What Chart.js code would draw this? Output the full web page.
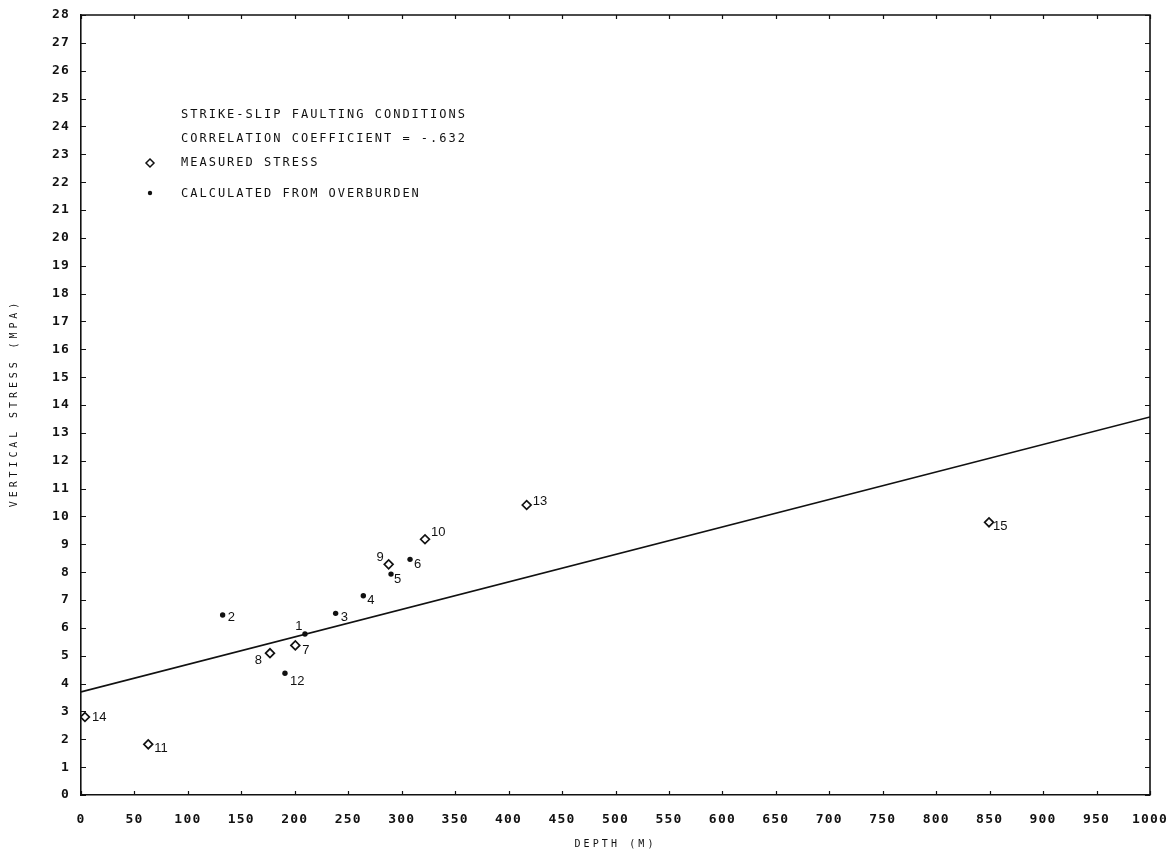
<!DOCTYPE html>
<html>
<head>
<meta charset="utf-8">
<script src="https://cdn.jsdelivr.net/npm/chart.js@4/dist/chart.umd.min.js"></script>
<style>
  html, body { margin: 0; padding: 0; background: #fff; }
  #wrap { width: 1175px; height: 853px; }
</style>
</head>
<body>
<div id="wrap"><canvas id="c" width="1175" height="853"></canvas></div>
<script>
// Measured stress (open diamonds)
const measuredIds    = ['7', '8', '9', '10', '11', '13', '14', '15'];
const measuredDepth  = [200.5, 176.8, 287.8, 321.8, 62.9, 416.9, 3.7, 849.4];
const measuredStress = [5.37, 5.09, 8.28, 9.18, 1.82, 10.41, 2.8, 9.79];

// Calculated from overburden (filled dots)
const calcIds    = ['1', '2', '3', '4', '5', '6', '12'];
const calcDepth  = [209.5, 132.5, 238.2, 264.1, 290.0, 307.8, 190.8];
const calcStress = [5.78, 6.46, 6.52, 7.15, 7.93, 8.46, 4.37];

// Regression line end points
const fitDepth  = [0, 1000];
const fitStress = [3.7, 13.57];

// Axis ticks
const depthTicks  = [0, 50, 100, 150, 200, 250, 300, 350, 400, 450, 500, 550, 600, 650, 700, 750, 800, 850, 900, 950, 1000];
const stressTicks = [0, 1, 2, 3, 4, 5, 6, 7, 8, 9, 10, 11, 12, 13, 14, 15, 16, 17, 18, 19, 20, 21, 22, 23, 24, 25, 26, 27, 28];

// Axis titles
const xTitle = 'DEPTH (M)';
const yTitle = 'VERTICAL STRESS (MPA)';

// Text block in the upper left
const titleLines   = ['STRIKE-SLIP FAULTING CONDITIONS', 'CORRELATION COEFFICIENT = -.632'];
const legendLabels = ['MEASURED STRESS', 'CALCULATED FROM OVERBURDEN'];

// Where each point number sits relative to its marker (px), and its alignment
const labelPlacement = {
  '1':  [-6, -8, 'center'], '2':  [5, 2, 'left'],  '3':  [5, 4, 'left'],
  '4':  [4, 5, 'left'],     '5':  [3, 5, 'left'],  '6':  [4, 5, 'left'],
  '7':  [7, 5, 'left'],     '8':  [-8, 7, 'right'], '9':  [-5, -7, 'right'],
  '10': [6, -7, 'left'],    '11': [6, 4, 'left'],  '12': [5, 8, 'left'],
  '13': [6, -4, 'left'],    '14': [7, 0, 'left'],  '15': [4, 4, 'left']
};

const toPoints = (xs, ys) => xs.map((x, i) => ({ x: x, y: ys[i] }));

const ink = '#111';
const plotFont = "'DejaVu Sans Mono', monospace";

const framePlugin = {
  id: 'frame',
  beforeDraw(chart) {
    // spacing for the tick numerals drawn by the scales
    chart.ctx.letterSpacing = '1.2px';
  },
  afterDatasetsDraw(chart) {
    const ctx = chart.ctx;
    const a = chart.chartArea;
    const xs = chart.scales.x, ys = chart.scales.y;
    ctx.save();
    ctx.strokeStyle = ink;
    ctx.lineWidth = 1.6;
    // top and right borders
    ctx.beginPath();
    ctx.moveTo(a.left, a.top); ctx.lineTo(a.right, a.top); ctx.lineTo(a.right, a.bottom);
    ctx.stroke();
    // inward tick marks on all four sides
    ctx.lineWidth = 1.2;
    ctx.beginPath();
    depthTicks.forEach(v => {
      const px = Math.round(xs.getPixelForValue(v)) + 0.5;
      ctx.moveTo(px, a.bottom); ctx.lineTo(px, a.bottom - 4);
      ctx.moveTo(px, a.top); ctx.lineTo(px, a.top + 4);
    });
    stressTicks.forEach(v => {
      const py = Math.round(ys.getPixelForValue(v)) + 0.5;
      ctx.moveTo(a.left, py); ctx.lineTo(a.left + 5, py);
      ctx.moveTo(a.right, py); ctx.lineTo(a.right - 5, py);
    });
    ctx.stroke();

    // point numbers
    ctx.letterSpacing = '0px';
    ctx.fillStyle = ink;
    ctx.font = "13px 'Liberation Sans', sans-serif";
    ctx.textBaseline = 'middle';
    const drawIds = (ids, xsArr, ysArr) => {
      ids.forEach((id, i) => {
        const p = labelPlacement[id];
        ctx.textAlign = p[2];
        ctx.fillText(id, xs.getPixelForValue(xsArr[i]) + p[0], ys.getPixelForValue(ysArr[i]) + p[1]);
      });
    };
    drawIds(measuredIds, measuredDepth, measuredStress);
    drawIds(calcIds, calcDepth, calcStress);

    // axis titles
    ctx.font = "10px " + plotFont;
    ctx.letterSpacing = '3.1px';
    ctx.textAlign = 'center';
    ctx.fillText(xTitle, (a.left + a.right) / 2, 844);
    ctx.save();
    ctx.translate(14, (a.top + a.bottom) / 2);
    ctx.rotate(-Math.PI / 2);
    ctx.letterSpacing = '3.9px';
    ctx.fillText(yTitle, 2, 0);
    ctx.restore();

    // title lines and legend
    const tx = a.left + 100;
    ctx.font = "12px " + plotFont;
    ctx.letterSpacing = '2px';
    ctx.textAlign = 'left';
    ctx.fillText(titleLines[0], tx, a.top + 100);
    ctx.fillText(titleLines[1], tx, a.top + 124);
    ctx.fillText(legendLabels[0], tx, a.top + 148);
    ctx.fillText(legendLabels[1], tx, a.top + 179);
    // legend markers
    const mx = a.left + 69;
    ctx.lineWidth = 1.5;
    ctx.strokeStyle = ink;
    ctx.fillStyle = '#fff';
    ctx.beginPath();
    const my = a.top + 148;
    ctx.moveTo(mx, my - 4); ctx.lineTo(mx + 4, my); ctx.lineTo(mx, my + 4); ctx.lineTo(mx - 4, my); ctx.closePath();
    ctx.fill(); ctx.stroke();
    ctx.fillStyle = ink;
    ctx.beginPath();
    ctx.arc(mx, a.top + 178, 2.2, 0, Math.PI * 2);
    ctx.fill();
    ctx.restore();
  }
};

new Chart(document.getElementById('c'), {
  type: 'scatter',
  data: {
    datasets: [
      {
        type: 'line',
        label: 'Regression',
        data: toPoints(fitDepth, fitStress),
        borderColor: ink,
        borderWidth: 1.6,
        pointRadius: 0,
        fill: false,
        tension: 0
      },
      {
        label: legendLabels[0],
        data: toPoints(measuredDepth, measuredStress),
        pointStyle: 'rectRot',
        pointRadius: 4.4,
        pointBorderWidth: 1.7,
        pointBorderColor: ink,
        pointBackgroundColor: '#fff'
      },
      {
        label: legendLabels[1],
        data: toPoints(calcDepth, calcStress),
        pointStyle: 'circle',
        pointRadius: 2.7,
        pointBorderWidth: 0,
        pointBackgroundColor: ink,
        pointBorderColor: ink
      }
    ]
  },
  options: {
    responsive: false,
    animation: false,
    layout: { padding: { top: 15, right: 25, left: 0, bottom: 0 } },
    plugins: { legend: { display: false }, tooltip: { enabled: false } },
    scales: {
      x: {
        type: 'linear',
        min: 0, max: 1000,
        afterFit(s) { s.height = 58; s.paddingLeft = 0; s.paddingRight = 0; },
        afterBuildTicks(s) { s.ticks = depthTicks.map(v => ({ value: v })); },
        grid: { display: true, drawOnChartArea: false, drawTicks: false },
        border: { display: true, color: ink, width: 1.6 },
        ticks: {
          autoSkip: false, maxRotation: 0, padding: 17,
          color: ink,
          font: { family: plotFont, size: 13, weight: 'bold' },
          callback: v => String(v)
        },
        title: { display: false }
      },
      y: {
        type: 'linear',
        min: 0, max: 28,
        afterFit(s) { s.width = 81; s.paddingTop = 0; s.paddingBottom = 0; },
        afterBuildTicks(s) { s.ticks = stressTicks.map(v => ({ value: v })); },
        grid: { display: true, drawOnChartArea: false, drawTicks: false },
        border: { display: true, color: ink, width: 1.6 },
        ticks: {
          autoSkip: false, padding: 11,
          color: ink,
          font: { family: plotFont, size: 13, weight: 'bold' },
          callback: v => String(v)
        },
        title: { display: false }
      }
    }
  },
  plugins: [framePlugin]
});
</script>
</body>
</html>
